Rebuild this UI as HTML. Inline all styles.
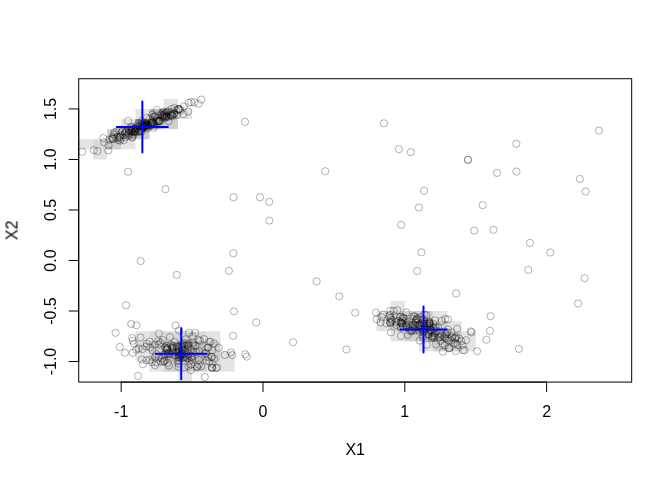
<!DOCTYPE html><html><head><meta charset="utf-8"><title>plot</title><style>html,body{margin:0;padding:0;background:#fff}svg{display:block}text{font-family:"Liberation Sans",sans-serif;font-size:16px;fill:#000}</style></head><body>
<svg width="672" height="480" viewBox="0 0 672 480">
<rect x="0" y="0" width="672" height="480" fill="#fff"/>
<g>
<rect x="78.72" y="139.25" width="14.12" height="10.10" fill="#000" fill-opacity="0.105"/>
<rect x="92.84" y="139.25" width="14.18" height="10.10" fill="#000" fill-opacity="0.145"/>
<rect x="92.84" y="149.36" width="14.18" height="10.10" fill="#000" fill-opacity="0.105"/>
<rect x="107.02" y="129.15" width="14.18" height="10.10" fill="#000" fill-opacity="0.19"/>
<rect x="107.02" y="139.25" width="14.18" height="10.10" fill="#000" fill-opacity="0.19"/>
<rect x="121.20" y="119.04" width="14.18" height="10.10" fill="#000" fill-opacity="0.105"/>
<rect x="121.20" y="129.15" width="14.18" height="10.10" fill="#000" fill-opacity="0.27"/>
<rect x="121.20" y="139.25" width="14.18" height="10.10" fill="#000" fill-opacity="0.105"/>
<rect x="135.38" y="108.94" width="14.18" height="10.10" fill="#000" fill-opacity="0.105"/>
<rect x="135.38" y="119.04" width="14.18" height="10.10" fill="#000" fill-opacity="0.44"/>
<rect x="135.38" y="129.15" width="14.18" height="10.10" fill="#000" fill-opacity="0.19"/>
<rect x="149.56" y="108.94" width="14.18" height="10.10" fill="#000" fill-opacity="0.27"/>
<rect x="149.56" y="119.04" width="14.18" height="10.10" fill="#000" fill-opacity="0.27"/>
<rect x="163.74" y="98.84" width="14.18" height="10.10" fill="#000" fill-opacity="0.105"/>
<rect x="163.74" y="108.94" width="14.18" height="10.10" fill="#000" fill-opacity="0.27"/>
<rect x="163.74" y="119.04" width="14.18" height="10.10" fill="#000" fill-opacity="0.19"/>
<rect x="177.92" y="108.94" width="14.18" height="10.10" fill="#000" fill-opacity="0.105"/>
<rect x="376.44" y="311.02" width="14.18" height="10.10" fill="#000" fill-opacity="0.105"/>
<rect x="376.44" y="321.12" width="14.18" height="10.10" fill="#000" fill-opacity="0.105"/>
<rect x="390.62" y="300.92" width="14.18" height="10.10" fill="#000" fill-opacity="0.105"/>
<rect x="390.62" y="311.02" width="14.18" height="10.10" fill="#000" fill-opacity="0.19"/>
<rect x="390.62" y="321.12" width="14.18" height="10.10" fill="#000" fill-opacity="0.19"/>
<rect x="390.62" y="331.23" width="14.18" height="10.10" fill="#000" fill-opacity="0.105"/>
<rect x="404.80" y="311.02" width="14.18" height="10.10" fill="#000" fill-opacity="0.19"/>
<rect x="404.80" y="321.12" width="14.18" height="10.10" fill="#000" fill-opacity="0.44"/>
<rect x="404.80" y="331.23" width="14.18" height="10.10" fill="#000" fill-opacity="0.19"/>
<rect x="418.98" y="311.02" width="14.18" height="10.10" fill="#000" fill-opacity="0.19"/>
<rect x="418.98" y="321.12" width="14.18" height="10.10" fill="#000" fill-opacity="0.27"/>
<rect x="418.98" y="331.23" width="14.18" height="10.10" fill="#000" fill-opacity="0.27"/>
<rect x="418.98" y="341.33" width="14.18" height="10.10" fill="#000" fill-opacity="0.105"/>
<rect x="433.16" y="311.02" width="14.18" height="10.10" fill="#000" fill-opacity="0.105"/>
<rect x="433.16" y="321.12" width="14.18" height="10.10" fill="#000" fill-opacity="0.19"/>
<rect x="433.16" y="331.23" width="14.18" height="10.10" fill="#000" fill-opacity="0.27"/>
<rect x="433.16" y="341.33" width="14.18" height="10.10" fill="#000" fill-opacity="0.19"/>
<rect x="447.34" y="321.12" width="14.18" height="10.10" fill="#000" fill-opacity="0.105"/>
<rect x="447.34" y="331.23" width="14.18" height="10.10" fill="#000" fill-opacity="0.19"/>
<rect x="447.34" y="341.33" width="14.18" height="10.10" fill="#000" fill-opacity="0.19"/>
<rect x="461.52" y="331.23" width="14.18" height="10.10" fill="#000" fill-opacity="0.105"/>
<rect x="461.52" y="341.33" width="14.18" height="10.10" fill="#000" fill-opacity="0.105"/>
<rect x="135.38" y="331.23" width="14.18" height="10.10" fill="#000" fill-opacity="0.105"/>
<rect x="135.38" y="341.33" width="14.18" height="10.10" fill="#000" fill-opacity="0.145"/>
<rect x="135.38" y="351.44" width="14.18" height="10.10" fill="#000" fill-opacity="0.105"/>
<rect x="149.56" y="331.23" width="14.18" height="10.10" fill="#000" fill-opacity="0.145"/>
<rect x="149.56" y="341.33" width="14.18" height="10.10" fill="#000" fill-opacity="0.19"/>
<rect x="149.56" y="351.44" width="14.18" height="10.10" fill="#000" fill-opacity="0.19"/>
<rect x="149.56" y="361.54" width="14.18" height="10.10" fill="#000" fill-opacity="0.105"/>
<rect x="163.74" y="331.23" width="14.18" height="10.10" fill="#000" fill-opacity="0.145"/>
<rect x="163.74" y="341.33" width="14.18" height="10.10" fill="#000" fill-opacity="0.27"/>
<rect x="163.74" y="351.44" width="14.18" height="10.10" fill="#000" fill-opacity="0.27"/>
<rect x="163.74" y="361.54" width="14.18" height="10.10" fill="#000" fill-opacity="0.19"/>
<rect x="177.92" y="331.23" width="14.18" height="10.10" fill="#000" fill-opacity="0.19"/>
<rect x="177.92" y="341.33" width="14.18" height="10.10" fill="#000" fill-opacity="0.44"/>
<rect x="177.92" y="351.44" width="14.18" height="10.10" fill="#000" fill-opacity="0.44"/>
<rect x="177.92" y="361.54" width="14.18" height="10.10" fill="#000" fill-opacity="0.19"/>
<rect x="177.92" y="371.64" width="14.18" height="10.10" fill="#000" fill-opacity="0.105"/>
<rect x="192.10" y="331.23" width="14.18" height="10.10" fill="#000" fill-opacity="0.145"/>
<rect x="192.10" y="341.33" width="14.18" height="10.10" fill="#000" fill-opacity="0.27"/>
<rect x="192.10" y="351.44" width="14.18" height="10.10" fill="#000" fill-opacity="0.27"/>
<rect x="192.10" y="361.54" width="14.18" height="10.10" fill="#000" fill-opacity="0.19"/>
<rect x="206.28" y="331.23" width="14.18" height="10.10" fill="#000" fill-opacity="0.105"/>
<rect x="206.28" y="341.33" width="14.18" height="10.10" fill="#000" fill-opacity="0.19"/>
<rect x="206.28" y="351.44" width="14.18" height="10.10" fill="#000" fill-opacity="0.19"/>
<rect x="206.28" y="361.54" width="14.18" height="10.10" fill="#000" fill-opacity="0.105"/>
<rect x="220.46" y="351.44" width="14.18" height="10.10" fill="#000" fill-opacity="0.105"/>
<rect x="220.46" y="361.54" width="14.18" height="10.10" fill="#000" fill-opacity="0.105"/>
</g>
<g fill="none" stroke="#000" stroke-opacity="0.3" stroke-width="1">
<circle cx="245.0" cy="121.9" r="3.6"/>
<circle cx="325.2" cy="171.2" r="3.6"/>
<circle cx="383.9" cy="123.3" r="3.6"/>
<circle cx="398.9" cy="149.2" r="3.6"/>
<circle cx="410.8" cy="152.1" r="3.6"/>
<circle cx="467.9" cy="159.8" r="3.6"/>
<circle cx="467.9" cy="159.8" r="3.6"/>
<circle cx="598.9" cy="130.6" r="3.6"/>
<circle cx="516.4" cy="143.8" r="3.6"/>
<circle cx="516.4" cy="171.5" r="3.6"/>
<circle cx="497.0" cy="172.9" r="3.6"/>
<circle cx="128.1" cy="171.7" r="3.6"/>
<circle cx="165.4" cy="189.2" r="3.6"/>
<circle cx="140.6" cy="261.0" r="3.6"/>
<circle cx="233.5" cy="197.3" r="3.6"/>
<circle cx="260.0" cy="197.3" r="3.6"/>
<circle cx="269.3" cy="201.9" r="3.6"/>
<circle cx="269.3" cy="220.6" r="3.6"/>
<circle cx="233.3" cy="253.3" r="3.6"/>
<circle cx="424.1" cy="190.8" r="3.6"/>
<circle cx="418.9" cy="207.5" r="3.6"/>
<circle cx="482.7" cy="205.2" r="3.6"/>
<circle cx="401.2" cy="224.8" r="3.6"/>
<circle cx="474.3" cy="230.6" r="3.6"/>
<circle cx="493.5" cy="229.8" r="3.6"/>
<circle cx="421.4" cy="252.3" r="3.6"/>
<circle cx="579.8" cy="179.0" r="3.6"/>
<circle cx="585.6" cy="191.5" r="3.6"/>
<circle cx="530.0" cy="242.9" r="3.6"/>
<circle cx="550.2" cy="252.5" r="3.6"/>
<circle cx="228.9" cy="270.8" r="3.6"/>
<circle cx="316.6" cy="281.4" r="3.6"/>
<circle cx="339.3" cy="296.4" r="3.6"/>
<circle cx="355.2" cy="312.8" r="3.6"/>
<circle cx="233.9" cy="311.4" r="3.6"/>
<circle cx="256.2" cy="322.4" r="3.6"/>
<circle cx="233.1" cy="335.8" r="3.6"/>
<circle cx="293.1" cy="342.2" r="3.6"/>
<circle cx="346.4" cy="349.5" r="3.6"/>
<circle cx="218.7" cy="347.8" r="3.6"/>
<circle cx="224.8" cy="354.9" r="3.6"/>
<circle cx="231.0" cy="352.4" r="3.6"/>
<circle cx="232.2" cy="355.1" r="3.6"/>
<circle cx="245.2" cy="354.3" r="3.6"/>
<circle cx="246.8" cy="356.6" r="3.6"/>
<circle cx="528.3" cy="269.9" r="3.6"/>
<circle cx="584.5" cy="278.2" r="3.6"/>
<circle cx="578.1" cy="303.5" r="3.6"/>
<circle cx="518.9" cy="348.9" r="3.6"/>
<circle cx="417.2" cy="271.0" r="3.6"/>
<circle cx="456.2" cy="293.5" r="3.6"/>
<circle cx="490.6" cy="316.2" r="3.6"/>
<circle cx="490.0" cy="330.8" r="3.6"/>
<circle cx="486.4" cy="339.7" r="3.6"/>
<circle cx="477.0" cy="351.2" r="3.6"/>
<circle cx="176.8" cy="274.9" r="3.6"/>
<circle cx="126.0" cy="305.3" r="3.6"/>
<circle cx="131.2" cy="323.9" r="3.6"/>
<circle cx="136.4" cy="325.3" r="3.6"/>
<circle cx="115.6" cy="332.8" r="3.6"/>
<circle cx="175.6" cy="325.5" r="3.6"/>
<circle cx="158.9" cy="333.5" r="3.6"/>
<circle cx="140.6" cy="337.4" r="3.6"/>
<circle cx="132.2" cy="338.0" r="3.6"/>
<circle cx="132.7" cy="340.8" r="3.6"/>
<circle cx="133.9" cy="343.7" r="3.6"/>
<circle cx="119.8" cy="347.0" r="3.6"/>
<circle cx="125.0" cy="352.8" r="3.6"/>
<circle cx="132.7" cy="352.8" r="3.6"/>
<circle cx="138.5" cy="348.5" r="3.6"/>
<circle cx="142.2" cy="349.1" r="3.6"/>
<circle cx="189.1" cy="332.8" r="3.6"/>
<circle cx="195.2" cy="332.8" r="3.6"/>
<circle cx="375.9" cy="312.5" r="3.6"/>
<circle cx="376.7" cy="319.3" r="3.6"/>
<circle cx="383.2" cy="314.6" r="3.6"/>
<circle cx="381.6" cy="317.2" r="3.6"/>
<circle cx="386.3" cy="323.4" r="3.6"/>
<circle cx="390.2" cy="310.9" r="3.6"/>
<circle cx="393.6" cy="310.9" r="3.6"/>
<circle cx="391.0" cy="319.3" r="3.6"/>
<circle cx="391.0" cy="332.3" r="3.6"/>
<circle cx="400.9" cy="335.9" r="3.6"/>
<circle cx="407.7" cy="334.9" r="3.6"/>
<circle cx="400.9" cy="328.1" r="3.6"/>
<circle cx="419.6" cy="340.6" r="3.6"/>
<circle cx="424.3" cy="314.6" r="3.6"/>
<circle cx="426.9" cy="344.8" r="3.6"/>
<circle cx="470.8" cy="331.4" r="3.6"/>
<circle cx="471.5" cy="332.4" r="3.6"/>
<circle cx="457.2" cy="328.8" r="3.6"/>
<circle cx="466.1" cy="340.2" r="3.6"/>
<circle cx="461.4" cy="341.2" r="3.6"/>
<circle cx="456.2" cy="337.1" r="3.6"/>
<circle cx="463.0" cy="350.1" r="3.6"/>
<circle cx="464.5" cy="350.1" r="3.6"/>
<circle cx="455.7" cy="351.1" r="3.6"/>
<circle cx="449.4" cy="348.0" r="3.6"/>
<circle cx="442.9" cy="351.7" r="3.6"/>
<circle cx="445.3" cy="318.9" r="3.6"/>
<circle cx="447.9" cy="319.4" r="3.6"/>
<circle cx="434.9" cy="320.4" r="3.6"/>
<circle cx="441.6" cy="320.9" r="3.6"/>
<circle cx="426.5" cy="315.2" r="3.6"/>
<circle cx="435.9" cy="344.4" r="3.6"/>
<circle cx="444.8" cy="345.4" r="3.6"/>
<circle cx="136.2" cy="349.6" r="3.6"/>
<circle cx="141.9" cy="359.5" r="3.6"/>
<circle cx="143.0" cy="364.2" r="3.6"/>
<circle cx="138.0" cy="375.9" r="3.6"/>
<circle cx="152.4" cy="350.1" r="3.6"/>
<circle cx="158.1" cy="341.3" r="3.6"/>
<circle cx="162.8" cy="340.2" r="3.6"/>
<circle cx="149.8" cy="360.0" r="3.6"/>
<circle cx="155.0" cy="365.2" r="3.6"/>
<circle cx="151.8" cy="362.1" r="3.6"/>
<circle cx="179.0" cy="330.4" r="3.6"/>
<circle cx="199.9" cy="340.8" r="3.6"/>
<circle cx="209.2" cy="341.9" r="3.6"/>
<circle cx="213.9" cy="343.4" r="3.6"/>
<circle cx="211.8" cy="357.0" r="3.6"/>
<circle cx="217.0" cy="367.4" r="3.6"/>
<circle cx="204.8" cy="377.0" r="3.6"/>
<circle cx="211.8" cy="367.6" r="3.6"/>
<circle cx="191.0" cy="370.2" r="3.6"/>
<circle cx="184.2" cy="367.6" r="3.6"/>
<circle cx="197.2" cy="366.6" r="3.6"/>
<circle cx="82.2" cy="151.7" r="3.6"/>
<circle cx="93.7" cy="150.1" r="3.6"/>
<circle cx="97.4" cy="151.1" r="3.6"/>
<circle cx="108.3" cy="150.4" r="3.6"/>
<circle cx="103.3" cy="138.1" r="3.6"/>
<circle cx="104.1" cy="142.3" r="3.6"/>
<circle cx="109.3" cy="139.7" r="3.6"/>
<circle cx="114.0" cy="134.5" r="3.6"/>
<circle cx="117.1" cy="138.1" r="3.6"/>
<circle cx="128.1" cy="120.9" r="3.6"/>
<circle cx="132.2" cy="137.6" r="3.6"/>
<circle cx="201.3" cy="99.6" r="3.6"/>
<circle cx="198.5" cy="103.8" r="3.6"/>
<circle cx="194.3" cy="102.2" r="3.6"/>
<circle cx="191.2" cy="102.2" r="3.6"/>
<circle cx="188.6" cy="102.8" r="3.6"/>
<circle cx="183.9" cy="106.4" r="3.6"/>
<circle cx="188.1" cy="111.6" r="3.6"/>
<circle cx="183.4" cy="114.2" r="3.6"/>
<circle cx="156.8" cy="110.0" r="3.6"/>
<circle cx="174.5" cy="108.0" r="3.6"/>
<circle cx="171.4" cy="109.0" r="3.6"/>
<circle cx="135.9" cy="131.0" r="3.6"/>
<circle cx="135.2" cy="128.3" r="3.6"/>
<circle cx="126.3" cy="132.6" r="3.6"/>
<circle cx="153.3" cy="123.0" r="3.6"/>
<circle cx="152.1" cy="122.9" r="3.6"/>
<circle cx="143.8" cy="126.3" r="3.6"/>
<circle cx="118.3" cy="140.0" r="3.6"/>
<circle cx="145.7" cy="126.7" r="3.6"/>
<circle cx="114.5" cy="132.3" r="3.6"/>
<circle cx="126.5" cy="131.6" r="3.6"/>
<circle cx="142.4" cy="126.1" r="3.6"/>
<circle cx="144.3" cy="123.1" r="3.6"/>
<circle cx="143.0" cy="127.4" r="3.6"/>
<circle cx="132.3" cy="136.9" r="3.6"/>
<circle cx="147.2" cy="128.5" r="3.6"/>
<circle cx="129.6" cy="129.3" r="3.6"/>
<circle cx="133.9" cy="129.6" r="3.6"/>
<circle cx="146.9" cy="125.2" r="3.6"/>
<circle cx="131.5" cy="127.6" r="3.6"/>
<circle cx="133.5" cy="134.6" r="3.6"/>
<circle cx="128.5" cy="133.3" r="3.6"/>
<circle cx="142.0" cy="121.1" r="3.6"/>
<circle cx="140.9" cy="131.7" r="3.6"/>
<circle cx="112.3" cy="138.4" r="3.6"/>
<circle cx="136.1" cy="126.1" r="3.6"/>
<circle cx="144.8" cy="125.0" r="3.6"/>
<circle cx="120.8" cy="138.8" r="3.6"/>
<circle cx="148.3" cy="127.1" r="3.6"/>
<circle cx="157.4" cy="121.0" r="3.6"/>
<circle cx="138.3" cy="123.4" r="3.6"/>
<circle cx="145.6" cy="122.7" r="3.6"/>
<circle cx="131.0" cy="126.7" r="3.6"/>
<circle cx="125.4" cy="131.9" r="3.6"/>
<circle cx="152.3" cy="114.6" r="3.6"/>
<circle cx="120.1" cy="136.9" r="3.6"/>
<circle cx="157.8" cy="121.6" r="3.6"/>
<circle cx="142.1" cy="123.8" r="3.6"/>
<circle cx="125.4" cy="137.3" r="3.6"/>
<circle cx="152.8" cy="122.3" r="3.6"/>
<circle cx="142.2" cy="127.9" r="3.6"/>
<circle cx="159.7" cy="120.9" r="3.6"/>
<circle cx="145.9" cy="126.7" r="3.6"/>
<circle cx="120.1" cy="140.7" r="3.6"/>
<circle cx="151.4" cy="124.2" r="3.6"/>
<circle cx="112.4" cy="137.2" r="3.6"/>
<circle cx="146.9" cy="117.8" r="3.6"/>
<circle cx="137.5" cy="132.1" r="3.6"/>
<circle cx="123.8" cy="140.3" r="3.6"/>
<circle cx="145.4" cy="124.4" r="3.6"/>
<circle cx="143.5" cy="128.1" r="3.6"/>
<circle cx="141.6" cy="130.8" r="3.6"/>
<circle cx="129.5" cy="130.5" r="3.6"/>
<circle cx="151.9" cy="122.2" r="3.6"/>
<circle cx="128.5" cy="135.8" r="3.6"/>
<circle cx="156.7" cy="118.4" r="3.6"/>
<circle cx="120.6" cy="135.4" r="3.6"/>
<circle cx="136.2" cy="127.9" r="3.6"/>
<circle cx="155.1" cy="117.0" r="3.6"/>
<circle cx="153.0" cy="117.1" r="3.6"/>
<circle cx="129.3" cy="134.3" r="3.6"/>
<circle cx="154.1" cy="124.2" r="3.6"/>
<circle cx="143.1" cy="126.5" r="3.6"/>
<circle cx="141.2" cy="128.9" r="3.6"/>
<circle cx="136.6" cy="129.8" r="3.6"/>
<circle cx="145.8" cy="124.8" r="3.6"/>
<circle cx="149.0" cy="125.4" r="3.6"/>
<circle cx="164.7" cy="117.6" r="3.6"/>
<circle cx="132.5" cy="129.3" r="3.6"/>
<circle cx="139.6" cy="130.9" r="3.6"/>
<circle cx="134.7" cy="131.1" r="3.6"/>
<circle cx="124.4" cy="135.1" r="3.6"/>
<circle cx="143.9" cy="126.5" r="3.6"/>
<circle cx="133.8" cy="132.4" r="3.6"/>
<circle cx="141.4" cy="124.8" r="3.6"/>
<circle cx="131.3" cy="130.8" r="3.6"/>
<circle cx="135.5" cy="129.1" r="3.6"/>
<circle cx="149.9" cy="118.8" r="3.6"/>
<circle cx="138.9" cy="131.3" r="3.6"/>
<circle cx="180.2" cy="110.6" r="3.6"/>
<circle cx="165.0" cy="114.3" r="3.6"/>
<circle cx="145.6" cy="124.8" r="3.6"/>
<circle cx="108.6" cy="145.4" r="3.6"/>
<circle cx="163.9" cy="111.7" r="3.6"/>
<circle cx="162.2" cy="117.2" r="3.6"/>
<circle cx="156.2" cy="121.3" r="3.6"/>
<circle cx="112.8" cy="138.7" r="3.6"/>
<circle cx="178.2" cy="108.9" r="3.6"/>
<circle cx="122.1" cy="131.2" r="3.6"/>
<circle cx="119.5" cy="137.3" r="3.6"/>
<circle cx="153.8" cy="127.8" r="3.6"/>
<circle cx="133.9" cy="128.1" r="3.6"/>
<circle cx="158.2" cy="120.9" r="3.6"/>
<circle cx="122.4" cy="131.6" r="3.6"/>
<circle cx="152.7" cy="122.5" r="3.6"/>
<circle cx="117.1" cy="136.8" r="3.6"/>
<circle cx="134.6" cy="131.1" r="3.6"/>
<circle cx="143.3" cy="125.6" r="3.6"/>
<circle cx="139.4" cy="130.7" r="3.6"/>
<circle cx="176.2" cy="110.4" r="3.6"/>
<circle cx="163.8" cy="114.6" r="3.6"/>
<circle cx="148.4" cy="125.9" r="3.6"/>
<circle cx="178.8" cy="109.1" r="3.6"/>
<circle cx="144.6" cy="125.9" r="3.6"/>
<circle cx="113.1" cy="139.2" r="3.6"/>
<circle cx="131.6" cy="132.2" r="3.6"/>
<circle cx="119.0" cy="130.7" r="3.6"/>
<circle cx="147.1" cy="125.0" r="3.6"/>
<circle cx="134.9" cy="132.2" r="3.6"/>
<circle cx="139.3" cy="125.8" r="3.6"/>
<circle cx="154.8" cy="116.2" r="3.6"/>
<circle cx="131.1" cy="131.2" r="3.6"/>
<circle cx="164.5" cy="116.1" r="3.6"/>
<circle cx="152.1" cy="120.1" r="3.6"/>
<circle cx="154.4" cy="125.9" r="3.6"/>
<circle cx="131.9" cy="131.0" r="3.6"/>
<circle cx="150.9" cy="125.6" r="3.6"/>
<circle cx="116.5" cy="131.5" r="3.6"/>
<circle cx="160.2" cy="120.8" r="3.6"/>
<circle cx="150.8" cy="123.3" r="3.6"/>
<circle cx="166.8" cy="116.6" r="3.6"/>
<circle cx="163.4" cy="115.9" r="3.6"/>
<circle cx="168.6" cy="121.1" r="3.6"/>
<circle cx="145.6" cy="124.1" r="3.6"/>
<circle cx="166.9" cy="111.7" r="3.6"/>
<circle cx="165.1" cy="117.9" r="3.6"/>
<circle cx="176.9" cy="114.9" r="3.6"/>
<circle cx="160.8" cy="114.5" r="3.6"/>
<circle cx="172.4" cy="115.2" r="3.6"/>
<circle cx="168.1" cy="111.5" r="3.6"/>
<circle cx="174.1" cy="114.1" r="3.6"/>
<circle cx="171.3" cy="112.1" r="3.6"/>
<circle cx="170.8" cy="115.5" r="3.6"/>
<circle cx="162.5" cy="112.6" r="3.6"/>
<circle cx="170.7" cy="114.8" r="3.6"/>
<circle cx="168.9" cy="116.6" r="3.6"/>
<circle cx="163.9" cy="116.4" r="3.6"/>
<circle cx="166.4" cy="116.9" r="3.6"/>
<circle cx="178.7" cy="109.5" r="3.6"/>
<circle cx="174.0" cy="113.6" r="3.6"/>
<circle cx="180.0" cy="109.1" r="3.6"/>
<circle cx="166.2" cy="112.9" r="3.6"/>
<circle cx="172.5" cy="116.2" r="3.6"/>
<circle cx="172.0" cy="114.1" r="3.6"/>
<circle cx="166.8" cy="115.8" r="3.6"/>
<circle cx="159.2" cy="121.3" r="3.6"/>
<circle cx="164.2" cy="113.7" r="3.6"/>
<circle cx="162.1" cy="115.3" r="3.6"/>
<circle cx="419.2" cy="329.7" r="3.6"/>
<circle cx="390.2" cy="322.7" r="3.6"/>
<circle cx="421.3" cy="322.5" r="3.6"/>
<circle cx="390.1" cy="314.8" r="3.6"/>
<circle cx="400.3" cy="322.2" r="3.6"/>
<circle cx="406.3" cy="312.4" r="3.6"/>
<circle cx="413.6" cy="316.3" r="3.6"/>
<circle cx="422.1" cy="319.7" r="3.6"/>
<circle cx="400.7" cy="316.7" r="3.6"/>
<circle cx="400.6" cy="326.8" r="3.6"/>
<circle cx="419.6" cy="327.7" r="3.6"/>
<circle cx="414.7" cy="316.5" r="3.6"/>
<circle cx="402.7" cy="318.5" r="3.6"/>
<circle cx="395.6" cy="322.0" r="3.6"/>
<circle cx="399.9" cy="317.2" r="3.6"/>
<circle cx="397.3" cy="310.2" r="3.6"/>
<circle cx="415.5" cy="330.2" r="3.6"/>
<circle cx="412.3" cy="318.6" r="3.6"/>
<circle cx="424.7" cy="327.4" r="3.6"/>
<circle cx="419.8" cy="331.8" r="3.6"/>
<circle cx="424.3" cy="323.8" r="3.6"/>
<circle cx="422.1" cy="329.0" r="3.6"/>
<circle cx="389.1" cy="316.2" r="3.6"/>
<circle cx="390.3" cy="317.9" r="3.6"/>
<circle cx="417.7" cy="319.4" r="3.6"/>
<circle cx="380.6" cy="322.4" r="3.6"/>
<circle cx="412.5" cy="330.2" r="3.6"/>
<circle cx="390.5" cy="323.4" r="3.6"/>
<circle cx="434.4" cy="337.5" r="3.6"/>
<circle cx="406.0" cy="323.1" r="3.6"/>
<circle cx="406.0" cy="326.5" r="3.6"/>
<circle cx="422.6" cy="325.9" r="3.6"/>
<circle cx="390.3" cy="321.9" r="3.6"/>
<circle cx="402.2" cy="324.0" r="3.6"/>
<circle cx="410.9" cy="330.6" r="3.6"/>
<circle cx="424.4" cy="323.8" r="3.6"/>
<circle cx="411.9" cy="331.4" r="3.6"/>
<circle cx="401.5" cy="322.9" r="3.6"/>
<circle cx="423.5" cy="331.6" r="3.6"/>
<circle cx="417.1" cy="318.1" r="3.6"/>
<circle cx="392.1" cy="320.0" r="3.6"/>
<circle cx="396.5" cy="325.1" r="3.6"/>
<circle cx="420.8" cy="317.2" r="3.6"/>
<circle cx="398.0" cy="320.9" r="3.6"/>
<circle cx="402.6" cy="320.4" r="3.6"/>
<circle cx="416.0" cy="320.2" r="3.6"/>
<circle cx="415.8" cy="321.0" r="3.6"/>
<circle cx="401.3" cy="323.3" r="3.6"/>
<circle cx="401.2" cy="322.1" r="3.6"/>
<circle cx="430.1" cy="327.3" r="3.6"/>
<circle cx="406.3" cy="325.4" r="3.6"/>
<circle cx="403.1" cy="326.3" r="3.6"/>
<circle cx="391.5" cy="321.6" r="3.6"/>
<circle cx="403.0" cy="317.4" r="3.6"/>
<circle cx="433.2" cy="323.8" r="3.6"/>
<circle cx="431.5" cy="330.6" r="3.6"/>
<circle cx="429.1" cy="322.3" r="3.6"/>
<circle cx="423.4" cy="332.5" r="3.6"/>
<circle cx="407.6" cy="321.6" r="3.6"/>
<circle cx="404.1" cy="318.4" r="3.6"/>
<circle cx="414.6" cy="325.3" r="3.6"/>
<circle cx="409.6" cy="330.7" r="3.6"/>
<circle cx="434.1" cy="335.3" r="3.6"/>
<circle cx="459.0" cy="338.4" r="3.6"/>
<circle cx="448.7" cy="348.2" r="3.6"/>
<circle cx="424.1" cy="323.3" r="3.6"/>
<circle cx="429.4" cy="321.7" r="3.6"/>
<circle cx="447.9" cy="329.5" r="3.6"/>
<circle cx="442.6" cy="343.8" r="3.6"/>
<circle cx="419.5" cy="325.2" r="3.6"/>
<circle cx="413.7" cy="328.3" r="3.6"/>
<circle cx="430.3" cy="330.0" r="3.6"/>
<circle cx="438.7" cy="337.6" r="3.6"/>
<circle cx="434.7" cy="333.3" r="3.6"/>
<circle cx="432.0" cy="332.6" r="3.6"/>
<circle cx="424.3" cy="329.1" r="3.6"/>
<circle cx="415.8" cy="322.8" r="3.6"/>
<circle cx="462.7" cy="345.3" r="3.6"/>
<circle cx="422.9" cy="329.5" r="3.6"/>
<circle cx="429.8" cy="322.9" r="3.6"/>
<circle cx="428.5" cy="334.3" r="3.6"/>
<circle cx="444.0" cy="336.6" r="3.6"/>
<circle cx="429.4" cy="325.6" r="3.6"/>
<circle cx="455.4" cy="343.1" r="3.6"/>
<circle cx="424.8" cy="328.7" r="3.6"/>
<circle cx="441.9" cy="335.4" r="3.6"/>
<circle cx="438.0" cy="327.7" r="3.6"/>
<circle cx="422.9" cy="336.7" r="3.6"/>
<circle cx="428.1" cy="334.6" r="3.6"/>
<circle cx="418.4" cy="325.0" r="3.6"/>
<circle cx="440.4" cy="340.8" r="3.6"/>
<circle cx="424.0" cy="331.7" r="3.6"/>
<circle cx="445.1" cy="333.9" r="3.6"/>
<circle cx="446.5" cy="333.7" r="3.6"/>
<circle cx="429.1" cy="330.8" r="3.6"/>
<circle cx="429.2" cy="323.6" r="3.6"/>
<circle cx="432.4" cy="336.0" r="3.6"/>
<circle cx="431.7" cy="338.3" r="3.6"/>
<circle cx="426.9" cy="323.4" r="3.6"/>
<circle cx="457.6" cy="344.8" r="3.6"/>
<circle cx="452.2" cy="336.4" r="3.6"/>
<circle cx="448.5" cy="340.3" r="3.6"/>
<circle cx="447.0" cy="338.5" r="3.6"/>
<circle cx="455.2" cy="338.6" r="3.6"/>
<circle cx="429.6" cy="323.7" r="3.6"/>
<circle cx="454.8" cy="337.9" r="3.6"/>
<circle cx="427.7" cy="325.6" r="3.6"/>
<circle cx="435.7" cy="327.3" r="3.6"/>
<circle cx="436.5" cy="330.8" r="3.6"/>
<circle cx="433.8" cy="328.0" r="3.6"/>
<circle cx="440.3" cy="333.2" r="3.6"/>
<circle cx="440.0" cy="336.7" r="3.6"/>
<circle cx="433.8" cy="328.8" r="3.6"/>
<circle cx="451.4" cy="332.4" r="3.6"/>
<circle cx="430.6" cy="330.0" r="3.6"/>
<circle cx="433.0" cy="337.4" r="3.6"/>
<circle cx="431.8" cy="336.8" r="3.6"/>
<circle cx="424.0" cy="319.7" r="3.6"/>
<circle cx="453.4" cy="343.2" r="3.6"/>
<circle cx="444.9" cy="338.1" r="3.6"/>
<circle cx="447.2" cy="332.4" r="3.6"/>
<circle cx="451.8" cy="337.7" r="3.6"/>
<circle cx="451.1" cy="340.5" r="3.6"/>
<circle cx="416.7" cy="319.2" r="3.6"/>
<circle cx="199.2" cy="351.3" r="3.6"/>
<circle cx="172.6" cy="354.6" r="3.6"/>
<circle cx="172.1" cy="347.8" r="3.6"/>
<circle cx="181.3" cy="353.7" r="3.6"/>
<circle cx="206.0" cy="352.9" r="3.6"/>
<circle cx="212.4" cy="368.0" r="3.6"/>
<circle cx="209.5" cy="361.6" r="3.6"/>
<circle cx="181.8" cy="353.7" r="3.6"/>
<circle cx="177.0" cy="346.2" r="3.6"/>
<circle cx="178.3" cy="347.0" r="3.6"/>
<circle cx="208.2" cy="357.1" r="3.6"/>
<circle cx="178.6" cy="348.9" r="3.6"/>
<circle cx="160.5" cy="342.7" r="3.6"/>
<circle cx="179.0" cy="351.2" r="3.6"/>
<circle cx="204.8" cy="353.7" r="3.6"/>
<circle cx="182.4" cy="349.3" r="3.6"/>
<circle cx="168.9" cy="365.4" r="3.6"/>
<circle cx="197.0" cy="367.3" r="3.6"/>
<circle cx="173.4" cy="352.8" r="3.6"/>
<circle cx="164.1" cy="360.8" r="3.6"/>
<circle cx="155.1" cy="357.4" r="3.6"/>
<circle cx="198.7" cy="364.6" r="3.6"/>
<circle cx="163.1" cy="361.9" r="3.6"/>
<circle cx="167.0" cy="346.0" r="3.6"/>
<circle cx="156.3" cy="362.4" r="3.6"/>
<circle cx="208.3" cy="347.4" r="3.6"/>
<circle cx="166.2" cy="349.6" r="3.6"/>
<circle cx="170.0" cy="337.1" r="3.6"/>
<circle cx="167.7" cy="362.7" r="3.6"/>
<circle cx="212.2" cy="350.2" r="3.6"/>
<circle cx="167.4" cy="348.1" r="3.6"/>
<circle cx="146.5" cy="360.3" r="3.6"/>
<circle cx="160.5" cy="361.6" r="3.6"/>
<circle cx="149.6" cy="341.6" r="3.6"/>
<circle cx="184.5" cy="345.9" r="3.6"/>
<circle cx="193.2" cy="352.6" r="3.6"/>
<circle cx="158.9" cy="357.8" r="3.6"/>
<circle cx="211.5" cy="356.8" r="3.6"/>
<circle cx="192.8" cy="336.5" r="3.6"/>
<circle cx="166.9" cy="349.5" r="3.6"/>
<circle cx="198.3" cy="339.9" r="3.6"/>
<circle cx="175.3" cy="355.5" r="3.6"/>
<circle cx="150.0" cy="347.4" r="3.6"/>
<circle cx="188.4" cy="366.1" r="3.6"/>
<circle cx="191.1" cy="349.9" r="3.6"/>
<circle cx="158.9" cy="344.4" r="3.6"/>
<circle cx="167.9" cy="353.8" r="3.6"/>
<circle cx="178.6" cy="366.8" r="3.6"/>
<circle cx="184.5" cy="343.3" r="3.6"/>
<circle cx="206.5" cy="360.7" r="3.6"/>
<circle cx="181.3" cy="346.3" r="3.6"/>
<circle cx="146.8" cy="343.7" r="3.6"/>
<circle cx="195.5" cy="345.6" r="3.6"/>
<circle cx="156.4" cy="354.2" r="3.6"/>
<circle cx="183.8" cy="357.7" r="3.6"/>
<circle cx="191.0" cy="364.6" r="3.6"/>
<circle cx="164.8" cy="360.9" r="3.6"/>
<circle cx="162.2" cy="358.5" r="3.6"/>
<circle cx="182.6" cy="354.6" r="3.6"/>
<circle cx="196.4" cy="352.4" r="3.6"/>
<circle cx="199.0" cy="360.0" r="3.6"/>
<circle cx="181.9" cy="347.6" r="3.6"/>
<circle cx="166.3" cy="348.0" r="3.6"/>
<circle cx="176.0" cy="352.3" r="3.6"/>
<circle cx="193.0" cy="345.1" r="3.6"/>
<circle cx="167.1" cy="349.8" r="3.6"/>
<circle cx="182.9" cy="343.6" r="3.6"/>
<circle cx="207.7" cy="347.7" r="3.6"/>
<circle cx="179.4" cy="354.9" r="3.6"/>
<circle cx="182.8" cy="357.7" r="3.6"/>
<circle cx="184.4" cy="353.9" r="3.6"/>
<circle cx="146.4" cy="346.4" r="3.6"/>
<circle cx="184.9" cy="350.8" r="3.6"/>
<circle cx="165.1" cy="347.5" r="3.6"/>
<circle cx="211.8" cy="367.4" r="3.6"/>
<circle cx="178.5" cy="363.6" r="3.6"/>
<circle cx="171.0" cy="345.0" r="3.6"/>
<circle cx="169.7" cy="354.1" r="3.6"/>
<circle cx="180.4" cy="354.9" r="3.6"/>
<circle cx="178.9" cy="360.5" r="3.6"/>
<circle cx="210.6" cy="341.8" r="3.6"/>
<circle cx="182.3" cy="350.2" r="3.6"/>
<circle cx="185.7" cy="339.3" r="3.6"/>
<circle cx="188.7" cy="354.2" r="3.6"/>
<circle cx="173.0" cy="346.0" r="3.6"/>
<circle cx="154.8" cy="344.6" r="3.6"/>
<circle cx="191.7" cy="357.2" r="3.6"/>
<circle cx="179.1" cy="356.9" r="3.6"/>
<circle cx="168.9" cy="353.1" r="3.6"/>
<circle cx="180.2" cy="357.3" r="3.6"/>
<circle cx="178.3" cy="351.3" r="3.6"/>
<circle cx="177.1" cy="347.0" r="3.6"/>
<circle cx="204.1" cy="339.1" r="3.6"/>
<circle cx="191.7" cy="359.7" r="3.6"/>
<circle cx="212.5" cy="363.8" r="3.6"/>
<circle cx="193.0" cy="342.4" r="3.6"/>
<circle cx="164.3" cy="354.8" r="3.6"/>
<circle cx="188.3" cy="343.7" r="3.6"/>
<circle cx="172.8" cy="349.1" r="3.6"/>
<circle cx="180.6" cy="355.4" r="3.6"/>
<circle cx="174.5" cy="341.9" r="3.6"/>
<circle cx="201.2" cy="366.2" r="3.6"/>
<circle cx="177.6" cy="361.3" r="3.6"/>
<circle cx="187.3" cy="358.2" r="3.6"/>
<circle cx="187.9" cy="345.9" r="3.6"/>
<circle cx="189.5" cy="361.2" r="3.6"/>
<circle cx="216.1" cy="368.2" r="3.6"/>
<circle cx="214.3" cy="358.9" r="3.6"/>
<circle cx="173.6" cy="347.3" r="3.6"/>
<circle cx="165.3" cy="353.5" r="3.6"/>
<circle cx="178.9" cy="358.3" r="3.6"/>
<circle cx="191.3" cy="356.6" r="3.6"/>
</g>
<g stroke="#0000ff" stroke-width="2" stroke-linecap="round">
<line x1="116.85" y1="126.95" x2="167.85" y2="126.95"/><line x1="142.35" y1="101.45" x2="142.35" y2="152.45"/>
<line x1="155.7" y1="353.85" x2="206.7" y2="353.85"/><line x1="181.2" y1="328.35" x2="181.2" y2="379.35"/>
<line x1="400.4" y1="329.5" x2="446.6" y2="329.5"/><line x1="423.5" y1="306.4" x2="423.5" y2="352.6"/>
</g>
<g fill="none" stroke="#000" stroke-width="1" stroke-linecap="round">
<rect x="78.72" y="78.72" width="552.9599999999999" height="303.36"/>
<path d="M121.20 382.08H546.60M121.20 382.08v9.6M263.00 382.08v9.6M404.80 382.08v9.6M546.60 382.08v9.6"/>
<path d="M78.72 361.54V108.94M78.72 361.54h-9.6M78.72 311.02h-9.6M78.72 260.50h-9.6M78.72 209.98h-9.6M78.72 159.46h-9.6M78.72 108.94h-9.6"/>
</g>
<g opacity="0.999">
<text x="121.20" y="417" text-anchor="middle">-1</text>
<text x="263.00" y="417" text-anchor="middle">0</text>
<text x="404.80" y="417" text-anchor="middle">1</text>
<text x="546.60" y="417" text-anchor="middle">2</text>
<text transform="translate(56.1 361.54) rotate(-90)" text-anchor="middle">-1.0</text>
<text transform="translate(56.1 311.02) rotate(-90)" text-anchor="middle">-0.5</text>
<text transform="translate(56.1 260.50) rotate(-90)" text-anchor="middle">0.0</text>
<text transform="translate(56.1 209.98) rotate(-90)" text-anchor="middle">0.5</text>
<text transform="translate(56.1 159.46) rotate(-90)" text-anchor="middle">1.0</text>
<text transform="translate(56.1 108.94) rotate(-90)" text-anchor="middle">1.5</text>
<text x="355.20" y="455" text-anchor="middle">X1</text>
<text transform="translate(17.5 230.40) rotate(-90)" text-anchor="middle">X2</text>
</g>
</svg></body></html>
